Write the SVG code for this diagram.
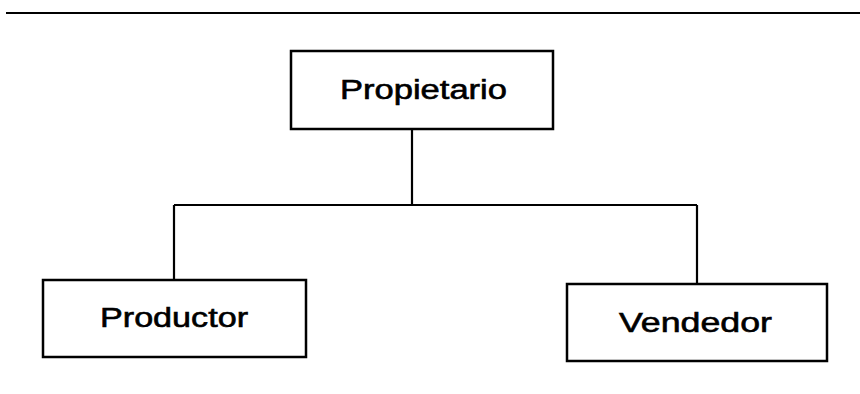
<svg xmlns="http://www.w3.org/2000/svg" width="860" height="394" viewBox="0 0 860 394">
<style>
.box{fill:#fff;stroke:#000;stroke-width:2.5}
.lbl{font-family:"Liberation Sans",Arial,sans-serif;font-size:27px;fill:#000;stroke:#000;stroke-width:0.6;text-anchor:start}
.ln{stroke:#000;stroke-width:2.2;fill:none}
</style>
<rect width="860" height="394" fill="#fff"/>
<line class="ln" x1="6" y1="13" x2="860" y2="13"/>
<g id="connectors">
<path class="ln" d="M412,129 V205 M174,205 H697 M174,205 V280 M697,205 V284"/>
</g>
<g id="propietario">
<rect class="box" x="291" y="51" width="262" height="78"/>
<text class="lbl" x="340" y="99" textLength="167" lengthAdjust="spacingAndGlyphs">Propietario</text>
</g>
<g id="productor">
<rect class="box" x="43" y="280" width="263" height="77"/>
<text class="lbl" x="100" y="327" textLength="148" lengthAdjust="spacingAndGlyphs">Productor</text>
</g>
<g id="vendedor">
<rect class="box" x="567" y="284" width="260" height="77"/>
<text class="lbl" x="619" y="332" textLength="153" lengthAdjust="spacingAndGlyphs">Vendedor</text>
</g>
</svg>
